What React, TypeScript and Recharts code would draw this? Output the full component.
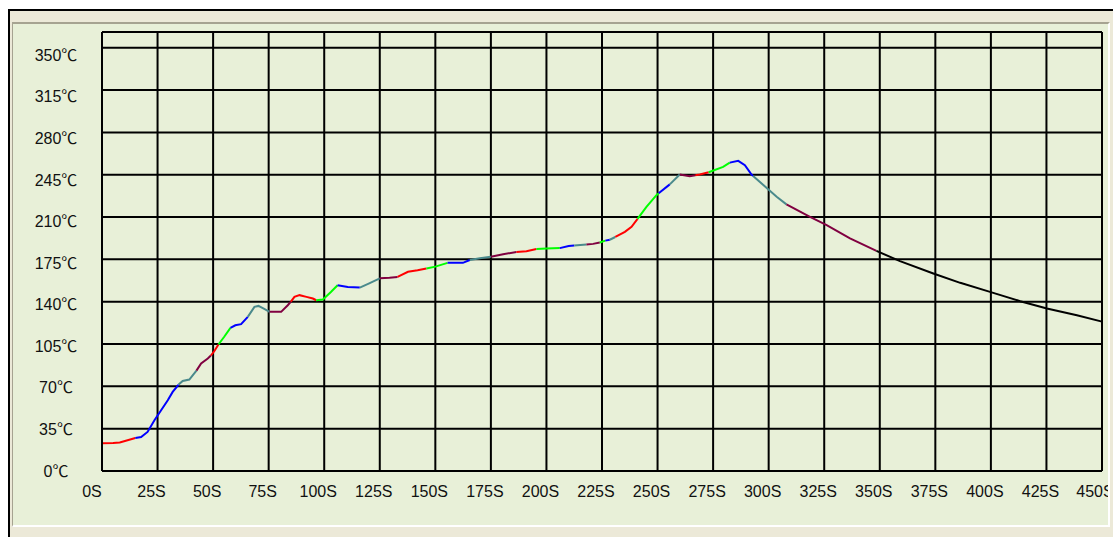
import React from "react";
import { LineChart, Line, XAxis, YAxis, CartesianGrid, ReferenceLine } from "recharts";

// reflow profile, seconds / degrees C
const times = [
  0, 5, 8, 11.5, 15, 17.6, 20.5, 23.6, 26.6, 29.6,
  31.8, 34.5, 36.3, 39.3, 42.5, 44.6, 47.6, 49, 50.5, 52.4,
  55, 57.8, 60, 62.6, 65.6, 68.6, 70.4, 73, 75.4, 80.6,
  83.6, 85, 86.6, 88.9, 92, 94.9, 96.4, 99.4, 103, 106,
  110.6, 116, 120, 125, 129.4, 133, 137.7, 142, 146, 150,
  155.5, 162.4, 165.5, 170, 175, 180.5, 186.5, 191, 195.5, 200,
  206, 210, 212.5, 218, 221, 224, 226.5, 228.5, 231, 235.3,
  238.3, 241, 245, 249.5, 250.5, 255.5, 260, 264.5, 267, 269,
  273, 279.5, 282.5, 286.3, 289.3, 292.3, 293, 297.6, 303.6, 308,
  318.6, 326.1, 336.6, 348.5, 359.1, 374.1, 386.2, 399.6, 413.2, 425.2,
  438.7, 450,
];

const temps = [
  23, 23.2, 23.5, 25.4, 27.3, 28.1, 32.3, 42, 50.2, 58.5,
  65.4, 71.5, 74.5, 75.6, 83, 88.9, 93, 95.5, 99, 104.6,
  111, 118.3, 120.5, 121.4, 127.4, 135.7, 136.5, 134, 131.6, 131.6,
  137.1, 140, 144, 145.4, 144, 142.6, 141.2, 141.8, 148, 153.6,
  152.2, 151.7, 155, 159.3, 159.7, 160.5, 164.7, 166, 167.5, 169,
  172.1, 172.1, 174.5, 176, 177.2, 179.3, 181, 181.8, 183.5, 184,
  184.3, 186, 186.5, 187.3, 187.8, 189, 190.5, 191.2, 193.5, 197.7,
  201.9, 208.5, 218.4, 228.1, 229.7, 237, 245.2, 243.8, 244.5, 245.2,
  247, 251.5, 255, 256.5, 252.9, 245.2, 244, 236.4, 226.7, 220.5,
  210.2, 203.3, 192.3, 182, 173.5, 163.3, 155.6, 148.1, 140.4, 134.4,
  128.8, 123.5,
];

const RED = "#FF0000";
const GREEN = "#00FF00";
const BLUE = "#0000FF";
const TEAL = "#4A8A8C";
const MAROON = "#800040";
const BLACK = "#000000";

// the trace changes colour at these times
const segmentBounds = [
  0, 15, 34.5, 42.5, 49, 52.4, 57.8, 65.6, 75.4, 85,
  96.4, 106, 116, 125, 133, 146, 155.5, 165.5, 175, 186.5,
  195.5, 206, 212.5, 218, 224, 226.5, 228.5, 231, 241, 250.5,
  255.5, 260, 267, 273, 282.5, 293, 308, 348.5, 450,
];

const segmentColors = [
  RED, BLUE, TEAL, MAROON, RED, GREEN, BLUE, TEAL, MAROON, RED,
  GREEN, BLUE, TEAL, MAROON, RED, GREEN, BLUE, TEAL, MAROON, RED,
  GREEN, BLUE, TEAL, MAROON, GREEN, BLUE, TEAL, RED, GREEN, BLUE,
  TEAL, MAROON, RED, GREEN, BLUE, TEAL, MAROON, BLACK,
];

const xTicks = [0, 25, 50, 75, 100, 125, 150, 175, 200, 225, 250, 275, 300, 325, 350, 375, 400, 425, 450];
const yTicks = [0, 35, 70, 105, 140, 175, 210, 245, 280, 315, 350];

const Y_MAX = 363;
const FONT = "'Liberation Sans', 'Noto Sans CJK SC', sans-serif";

const profile = times.map((t, i) => ({ t, temp: temps[i] }));
const segments = segmentColors.map((color, i) => ({
  color,
  data: profile.filter((p) => p.t >= segmentBounds[i] && p.t <= segmentBounds[i + 1]),
}));

function YTick(props: any) {
  const { y, payload } = props;
  // labels drift a little below their grid lines towards the top
  return (
    <text
      x={56}
      y={y + payload.value * 0.0217}
      textAnchor="middle"
      dominantBaseline="central"
      fontSize={16}
      fontFamily={FONT}
      fill="#111"
    >
      {payload.value}℃
    </text>
  );
}

function XTick(props: any) {
  const { x, payload } = props;
  const dx = payload.value === 0 ? -10 : -6;
  return (
    <text x={x + dx} y={497} textAnchor="middle" fontSize={16} fontFamily={FONT} fill="#111">
      {payload.value}S
    </text>
  );
}

export default function App() {
  return (
    <div
      style={{
        position: "absolute",
        left: 0,
        top: 0,
        width: 1113,
        height: 537,
        background: "#fff",
        overflow: "hidden",
      }}
    >
      <div style={{ position: "absolute", left: 8, top: 9, right: 0, bottom: 0, background: "#000" }} />
      <div style={{ position: "absolute", left: 10, top: 11, right: 0, bottom: 0, background: "#ECE9D8" }} />
      <div
        style={{
          position: "absolute",
          left: 12,
          top: 22,
          width: 1098,
          height: 505,
          boxSizing: "border-box",
          borderTop: "2px solid #A6A391",
          borderLeft: "1px solid #A6A391",
          borderRight: "2px solid #fff",
          borderBottom: "2px solid #fff",
          background: "#E8F0D8",
          overflow: "hidden",
        }}
      >
        <div style={{ position: "absolute", left: -13, top: -24 }}>
          <LineChart width={1113} height={537} margin={{ top: 32, right: 11, bottom: 36, left: 0 }}>
            <CartesianGrid stroke="#000" strokeWidth={2} />
            <XAxis
              dataKey="t"
              type="number"
              domain={[0, 450]}
              ticks={xTicks}
              height={30}
              tickLine={false}
              axisLine={{ stroke: "#000", strokeWidth: 2 }}
              tick={<XTick />}
              allowDuplicatedCategory={false}
            />
            <YAxis
              type="number"
              domain={[0, Y_MAX]}
              ticks={yTicks}
              width={102}
              tickLine={false}
              axisLine={{ stroke: "#000", strokeWidth: 2 }}
              tick={<YTick />}
            />
            <ReferenceLine y={Y_MAX} stroke="#000" strokeWidth={2} />
            <ReferenceLine x={450} stroke="#000" strokeWidth={2} />
            {segments.map((s, i) => (
              <Line
                key={i}
                data={s.data}
                dataKey="temp"
                type="linear"
                stroke={s.color}
                strokeWidth={2}
                dot={false}
                isAnimationActive={false}
              />
            ))}
          </LineChart>
        </div>
      </div>
    </div>
  );
}
